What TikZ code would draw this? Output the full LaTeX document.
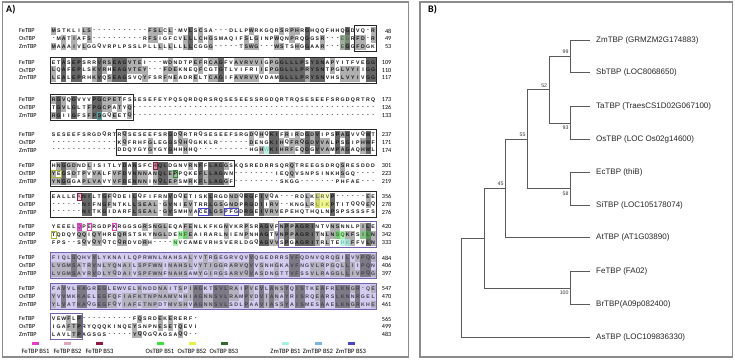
\documentclass[tikz,border=0pt]{standalone}
\usepackage{fontspec}
\setmainfont{Carlito}
\newfontfamily\arialf{Liberation Sans}
\definecolor{consA}{HTML}{666666}
\definecolor{consB}{HTML}{B0B0B0}
\definecolor{frameC}{HTML}{8C8C8C}
\definecolor{treeC}{HTML}{5A5A5A}
\definecolor{boxK}{HTML}{262626}
\definecolor{purpC}{HTML}{7462B0}
\definecolor{lavC}{HTML}{C2B8E8}
\definecolor{feA}{HTML}{E23CC8}
\definecolor{feB}{HTML}{E0A6B4}
\definecolor{feC}{HTML}{8E1B3E}
\definecolor{osA}{HTML}{3EE23E}
\definecolor{osB}{HTML}{E6F048}
\definecolor{osC}{HTML}{2F6A2A}
\definecolor{zmA}{HTML}{A6F2E2}
\definecolor{zmB}{HTML}{7CB6DE}
\definecolor{zmC}{HTML}{4A46D2}
\tikzset{
  res/.style={inner sep=0pt, font=\arialf\bfseries\fontsize{5.2}{5.5}\selectfont, text=black!90},
  shadeA/.style={fill=consA},
  shadeB/.style={fill=consB},
  nm/.style={anchor=west, inner sep=0pt, font=\fontsize{6.2}{7}\selectfont},
  num/.style={anchor=east, inner sep=0pt, font=\fontsize{6.2}{7}\selectfont},
  kbox/.style={draw=boxK, line width=0.8pt},
  pbox/.style={draw=purpC, line width=0.9pt},
  pfill/.style={fill=lavC, fill opacity=0.6},
  frame/.style={draw=frameC, line width=1.2pt},
  tree/.style={draw=treeC, line width=0.8pt},
  leaf/.style={anchor=west, inner sep=0pt, font=\arialf\fontsize{8}{9}\selectfont, text=black!85},
  bs/.style={inner sep=0pt, font=\arialf\fontsize{5.2}{6}\selectfont, text=black!80},
  panel/.style={anchor=west, inner sep=0pt, font=\bfseries\fontsize{10}{12}\selectfont},
  leg/.style={inner sep=0pt, font=\fontsize{6.6}{8}\selectfont},
}
\newcommand\rescell[5]{%
  \ifcase#3\relax\or
    \fill[shadeB] ({46.1+5.07*#1},{#2-3.85}) rectangle ({51.17+5.07*#1},{#2+3.85});%
  \or
    \fill[shadeA] ({46.1+5.07*#1},{#2-3.85}) rectangle ({51.17+5.07*#1},{#2+3.85});%
  \fi
  \node[res] (#5) at ({48.63+5.07*#1},#2) {#4};%
}
\newcommand\alnlabels[5]{%
  \node[nm] (#1nfe) at (19,#2) {FeTBP};
  \node[nm] (#1nos) at (19,{#2+7.8}) {OsTBP};
  \node[nm] (#1nzm) at (19,{#2+15.6}) {ZmTBP};
  \node[num] (#1kfe) at (391.5,#2) {#3};
  \node[num] (#1kos) at (391.5,{#2+7.8}) {#4};
  \node[num] (#1kzm) at (391.5,{#2+15.6}) {#5};
}
\newcommand\hlf[4]{\fill[#1] ({46.1+5.07*#3},{#2-3.85}) rectangle ({51.17+5.07*#4},{#2+3.85});}
\newcommand\hld[4]{\draw[#1] ({46.4+5.07*#3},{#2-3.6}) rectangle ({50.87+5.07*#4},{#2+3.6});}
\newcommand\bbox[4]{\draw[#1] ({45.4+5.07*#3},{#2-5.2}) rectangle ({51.87+5.07*#4},{#2+20.8});}
\newcommand\bfillbox[4]{\fill[#1] ({45.4+5.07*#3},{#2-5.2}) rectangle ({51.87+5.07*#4},{#2+20.8});}
\ExplSyntaxOn
\str_new:N \l__aln_a_str
\str_new:N \l__aln_b_str
\str_new:N \l__aln_c_str
\tl_new:N \l__aln_x_tl
\tl_new:N \l__aln_y_tl
\tl_new:N \l__aln_z_tl
\int_new:N \l__aln_sx_int
\int_new:N \l__aln_sy_int
\int_new:N \l__aln_sz_int
\tl_const:Nn \c__aln_gap_tl {-}
\NewDocumentCommand \alnblock { m m m m m }
  {
    \str_set:Nn \l__aln_a_str {#3}
    \str_set:Nn \l__aln_b_str {#4}
    \str_set:Nn \l__aln_c_str {#5}
    \int_step_inline:nn { \str_count:N \l__aln_a_str }
      {
        \tl_set:Nx \l__aln_x_tl { \str_item:Nn \l__aln_a_str {##1} }
        \tl_set:Nx \l__aln_y_tl { \str_item:Nn \l__aln_b_str {##1} }
        \tl_set:Nx \l__aln_z_tl { \str_item:Nn \l__aln_c_str {##1} }
        \int_zero:N \l__aln_sx_int
        \int_zero:N \l__aln_sy_int
        \int_zero:N \l__aln_sz_int
        \tl_if_eq:NNT \l__aln_x_tl \l__aln_y_tl
          { \int_set:Nn \l__aln_sx_int {1} \int_set:Nn \l__aln_sy_int {1} }
        \tl_if_eq:NNT \l__aln_x_tl \l__aln_z_tl
          { \int_set:Nn \l__aln_sx_int {1} \int_set:Nn \l__aln_sz_int {1} }
        \tl_if_eq:NNT \l__aln_y_tl \l__aln_z_tl
          { \int_set:Nn \l__aln_sy_int {1} \int_set:Nn \l__aln_sz_int {1} }
        \tl_if_eq:NNT \l__aln_x_tl \l__aln_y_tl
          {
            \tl_if_eq:NNT \l__aln_y_tl \l__aln_z_tl
              {
                \int_set:Nn \l__aln_sx_int {2}
                \int_set:Nn \l__aln_sy_int {2}
                \int_set:Nn \l__aln_sz_int {2}
              }
          }
        \tl_if_eq:NNT \l__aln_x_tl \c__aln_gap_tl { \int_zero:N \l__aln_sx_int }
        \tl_if_eq:NNT \l__aln_y_tl \c__aln_gap_tl { \int_zero:N \l__aln_sy_int }
        \tl_if_eq:NNT \l__aln_z_tl \c__aln_gap_tl { \int_zero:N \l__aln_sz_int }
        \use:x { \exp_not:N \rescell {##1} {#2} {\int_use:N \l__aln_sx_int} {\l__aln_x_tl} {#1r1c##1} }
        \use:x { \exp_not:N \rescell {##1} {\fp_eval:n {#2+7.8}} {\int_use:N \l__aln_sy_int} {\l__aln_y_tl} {#1r2c##1} }
        \use:x { \exp_not:N \rescell {##1} {\fp_eval:n {#2+15.6}} {\int_use:N \l__aln_sz_int} {\l__aln_z_tl} {#1r3c##1} }
      }
  }
\ExplSyntaxOff
\begin{document}
\begin{tikzpicture}[x=1pt,y=-1pt]
\fill[white] (0,0) rectangle (735,359);
\path[use as bounding box] (0,0) rectangle (735,359);
% panel frames
\draw[frame] (2.5,2) rectangle (408.5,357);
\draw[frame] (420,2) rectangle (732.5,357);
\node[panel] (pA) at (6,10) {A)};
\node[panel] (pB) at (428,10) {B)};
% ---------------- alignment ----------------
\bfillbox{pfill}{258}{1}{64}
\bfillbox{pfill}{289}{1}{64}
\alnblock{b1}{31}{MSTKLILS-----------FSLCL-MVLSCSA---DLLPWRKGQRSRPHRGHQQFHHQGDVQ-R}{-MATIAFS----------RFSIGFCVLLLCHGSMAQIFSLGINPWQNPRQGGSR---EGRFD-R}{MAAAIVLGGQVRPLPSSLPLLLLLLLLLCGGG-----TSWG---WSTSHGGAAR---EGGFDGK}
\alnlabels{b1}{31}{48}{49}{53}
\alnblock{b2}{62.3}{ETASEPSRRVRSEAGVTEI---WDNDTPEFRCAGFVAVRVVIGPGGLLLPSYSNAPYITFVEGG}{LQAFEPLSKVRHEAGVTEY---FDEKNEQFCGTGTLVIFRIIEPGGLLLPRYSNTPGLVYIIGG}{LEALEPRHKVQSEAGSVQYFSRFNEADRELTCAGIFAVRVVVDAMGLLLPRYSNVHSLVYIVGG}
\alnlabels{b2}{62.3}{109}{110}{117}
\alnblock{b3}{100}{RGVQGVVVPGCPETFSSESEFEYPQSQRDQRSRQSESEESSRGDQRTRQSESEEFSRGDQRTRQ}{TGVLGLTFPGCPATYQ------------------------------------------------}{RGIIGFSFPGGQEETQ------------------------------------------------}
\alnlabels{b3}{100}{173}{126}{133}
\alnblock{b4}{134.5}{SESEEFSRGDQRTRQSESEEFSRGDQRTRQSESEEFSRGDQHQKIFRIRDGDVIPSPAGVVQWT}{-------------KQFRHFGLEGGSQHQGKKLR------DENGKIHQFRQGDVVALPSGIPHWF}{-------------DDQYGYGYGYGHHHHQ----------HGHWKIHRFEQGGVVAMPAGAQHWL}
\alnlabels{b4}{134.5}{237}{171}{174}
\alnblock{b5}{166}{HNGGDNDLISITLYDANSFCHQLDGNVRNFFLAGGSKQSREDRRSQRQTREEGSDRQSRESDDD}{YEGSDTPVVALFVFDVNNNANQLEPPQKEFLLAGNN--------IEQQVSNPSINKHSGQ----}{YNGGGAPLVAVYVFDENNNINQLEPSMRKFLLAGGF---------SKGG-------PHFAE---}
\alnlabels{b5}{166}{301}{223}{219}
\alnblock{b6}{196.5}{EALLEANILTGFQDEILQFIFRNVDQETISKLRGDNDQRGFIVQA---RDLKLRVP------EE}{------NIFNGFNTKLLSEAL-GVNIEVTRRLGSGNDPRGDIIRV--KNGLRLIKPTITQQQEQ}{------NITKGIDARFLSEAL-GVSMHVACELGSPFGDRGEIVRVEPEHQTHQLNPSPSSSSFS}
\alnlabels{b6}{196.5}{356}{278}{276}
\alnblock{b7}{227}{YEEELQPERGDPKRGGSGRSNGLEQAFENLKFKGNVKRPSRAGVFNPPAGRINTVNSNNLPILE}{TQDQYQQIQYHREQRSTSKYNGLDENFEAIRARLNIENPNHAGTVNPPAGRITNLNSQKFSILN}{FPS--SQVQYQTCQRDVDRH----NVCAMEVRHSVERLDGQAGVVSPGAGRITRLTEHKFFVLN}
\alnlabels{b7}{227}{420}{342}{333}
\alnblock{b8}{258}{FIQLSQHVVLYKNAILQPRWNLNAHSALYVTRGEGRVQVVQGEDRRSVFQDNVQRQGILVVPQG}{LVGMSATRVNLYQNAILSPFWNINAHSLVYTIGGRARVQVVSNHGKAVFNGVLRPGQLLIIPQN}{LVGMSAVRVDLYQDAIVSPFWNFNAHSAMYGIRGSARVQVASDNGTTVFSSVLRAGGLLIVPQG}
\alnlabels{b8}{258}{484}{406}{397}
\alnblock{b9}{289}{FAVVLKAGREGLEWVELKNDDNAITSPIAGKTSVLRAIPVEVLANSYQISTKEAFRLKNGR-QE}{YVVMKKAELEGFQFIAFKTNPNAMVNHIAGNNSVLRAMPVDVIANAYRISRQEARSLKNNRGEL}{YLVATKAQGEGFQYIAFETNPDTMVSHVAGNNSVLSDLPAAVIASSYAISMESAAELKNGRKHE}
\alnlabels{b9}{289}{547}{470}{461}
\alnblock{b10}{319}{VEWFLP----------FQSRDEKERERF-}{IGAFTPRYQQQKINQEYSNPNESETQEVI}{LAVLTPAGSGS-----YQQGQAGSAQQ--}
\alnlabels{b10}{319}{565}{499}{483}
% tint of the two lavender blocks
\bfillbox{lavC, fill opacity=0.25}{258}{1}{64}
\bfillbox{lavC, fill opacity=0.25}{289}{1}{64}
% binding-site highlights
\hlf{osC!55!white, fill opacity=0.55}{38.8}{58}{59}
\hlf{osC!55!white, fill opacity=0.45}{46.6}{58}{58}
\hld{teal!70, line width=0.6pt}{115.6}{10}{10}
\hlf{zmA, fill opacity=0.8}{150.1}{43}{43}
\hlf{feC, fill opacity=0.45}{166}{21}{21}
\hld{feC, line width=0.6pt}{166}{21}{21}
\hld{osB!75!black, line width=0.6pt}{173.8}{1}{2}
\hld{osA!60!black, line width=0.6pt}{173.8}{25}{25}
\hlf{feB, fill opacity=0.5}{196.5}{6}{6}
\hld{feC, line width=0.6pt}{196.5}{6}{6}
\hld{zmC, line width=0.6pt}{212.1}{30}{31}
\hld{zmC, line width=0.6pt}{212.1}{35}{37}
\hlf{osB, fill opacity=0.6}{204.3}{53}{55}
\hlf{osB, fill opacity=0.35}{196.5}{53}{55}
\hlf{feA, fill opacity=0.6}{227}{6}{6}
\hld{feA, line width=0.6pt}{227}{6}{6}
\hld{feA, line width=0.6pt}{227}{8}{8}
\hld{feA, line width=0.6pt}{227}{13}{13}
\hld{osB!75!black, line width=0.6pt}{234.8}{1}{1}
\hlf{osA, fill opacity=0.45}{234.8}{26}{27}
\hlf{osA, fill opacity=0.45}{242.6}{25}{25}
\hlf{osA, fill opacity=0.45}{234.8}{57}{58}
\hlf{zmA, fill opacity=0.75}{242.6}{58}{59}
\hlf{osA, fill opacity=0.35}{234.8}{62}{63}
% boxes
\bbox{kbox}{31}{61}{64}
\bbox{kbox}{62.3}{1}{64}
\bbox{kbox}{100}{1}{16}
\bbox{kbox}{134.5}{14}{64}
\bbox{kbox}{166}{1}{36}
\bbox{kbox}{196.5}{1}{64}
\bbox{pbox}{227}{46}{64}
\bbox{pbox}{258}{1}{64}
\bbox{pbox}{289}{1}{64}
\bbox{pbox}{319}{1}{6}
% legend
\foreach \cx/\col/\txt/\nm in {35.5/feA/FeTBP BS1/l1, 67.5/feB/FeTBP BS2/l2, 99.5/feC/FeTBP BS3/l3,
  160/osA/OsTBP BS1/l4, 192/osB/OsTBP BS2/l5, 224/osC/OsTBP BS3/l6,
  285.5/zmA/ZmTBP BS1/l7, 318/zmB/ZmTBP BS2/l8, 351/zmC/ZmTBP BS3/l9}{
  \fill[\col] ({\cx-3.5},342.3) rectangle ({\cx+3.5},344.5);
  \node[leg] (\nm) at (\cx,351) {\txt};
}
% ---------------- tree ----------------
\coordinate (lZm) at (590,40.7);
\coordinate (lSb) at (590,72.7);
\coordinate (lTa) at (590,106.7);
\coordinate (lOs) at (590,139.3);
\coordinate (lEc) at (590,172.7);
\coordinate (lSi) at (590,205);
\coordinate (lAt) at (590,237.7);
\coordinate (lFe) at (590,271.7);
\coordinate (lBr) at (590,304.3);
\coordinate (lAs) at (590,337.3);
\coordinate (n99) at (570.7,56.7);
\coordinate (n93) at (570.7,123);
\coordinate (n58) at (570.7,188.85);
\coordinate (n100) at (570.7,288);
\coordinate (n52) at (549.3,89.85);
\coordinate (n55) at (527.7,139.35);
\coordinate (n45) at (505.7,188.5);
\coordinate (nA) at (484.3,238.25);
\coordinate (n0) at (461,287.8);
\draw[tree] (n99) |- (lZm);
\draw[tree] (n99) |- (lSb);
\draw[tree] (n93) |- (lTa);
\draw[tree] (n93) |- (lOs);
\draw[tree] (n52) |- (n99);
\draw[tree] (n52) |- (n93);
\draw[tree] (n58) |- (lEc);
\draw[tree] (n58) |- (lSi);
\draw[tree] (n55) |- (n52);
\draw[tree] (n55) |- (n58);
\draw[tree] (n45) |- (n55);
\draw[tree] (n45) |- (lAt);
\draw[tree] (n100) |- (lFe);
\draw[tree] (n100) |- (lBr);
\draw[tree] (nA) |- (n45);
\draw[tree] (nA) |- (n100);
\draw[tree] (n0) |- (nA);
\draw[tree] (n0) |- (lAs);
\node[leaf] (tZm) at ([xshift=6pt]lZm) {ZmTBP (GRMZM2G174883)};
\node[leaf] (tSb) at ([xshift=6pt]lSb) {SbTBP (LOC8068650)};
\node[leaf] (tTa) at ([xshift=6pt]lTa) {TaTBP (TraesCS1D02G067100)};
\node[leaf] (tOs) at ([xshift=6pt]lOs) {OsTBP (LOC Os02g14600)};
\node[leaf] (tEc) at ([xshift=6pt]lEc) {EcTBP (thiB)};
\node[leaf] (tSi) at ([xshift=6pt]lSi) {SiTBP (LOC105178074)};
\node[leaf] (tAt) at ([xshift=6pt]lAt) {AtTBP (AT1G03890)};
\node[leaf] (tFe) at ([xshift=6pt]lFe) {FeTBP (FA02)};
\node[leaf] (tBr) at ([xshift=6pt]lBr) {BrTBP(A09p082400)};
\node[leaf] (tAs) at ([xshift=6pt]lAs) {AsTBP (LOC109836330)};
\node[bs, anchor=south east] (s99) at ([xshift=-2pt,yshift=2.5pt]n99) {99};
\node[bs, anchor=south east] (s52) at ([xshift=-2pt,yshift=2.5pt]n52) {52};
\node[bs, anchor=south east] (s55) at ([xshift=-2pt,yshift=2.5pt]n55) {55};
\node[bs, anchor=south east] (s45) at ([xshift=-2pt,yshift=2.5pt]n45) {45};
\node[bs, anchor=north east] (s93) at ([xshift=-2pt,yshift=-2.5pt]n93) {93};
\node[bs, anchor=north east] (s58) at ([xshift=-2pt,yshift=-2.5pt]n58) {58};
\node[bs, anchor=north east] (s100) at ([xshift=-2pt,yshift=-2.5pt]n100) {100};
\end{tikzpicture}
\end{document}
